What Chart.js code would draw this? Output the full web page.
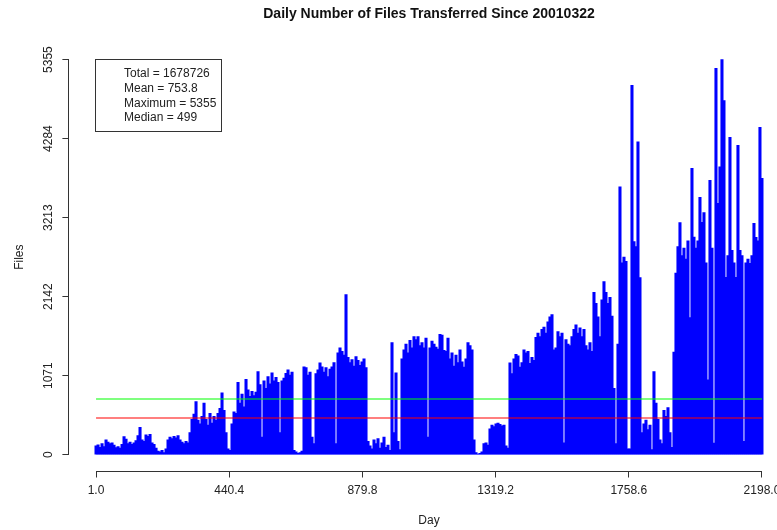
<!DOCTYPE html>
<html><head><meta charset="utf-8">
<script src="https://cdn.jsdelivr.net/npm/chart.js@4/dist/chart.umd.min.js"></script>
<style>
html,body{margin:0;padding:0;background:#fff;overflow:hidden;}
#wrap{position:relative;width:790px;height:530px;}
</style></head><body>
<div id="wrap"><canvas id="c" width="790" height="530"></canvas></div>
<script>
const TITLE = 'Daily Number of Files Transferred Since 20010322';
const X_LABEL = 'Day';
const Y_LABEL = 'Files';
const FIRST_DAY = 1, LAST_DAY = 2198;
const X_TICKS = [1.0, 440.4, 879.8, 1319.2, 1758.6, 2198.0];
const Y_TICKS = [0, 1071, 2142, 3213, 4284, 5355];
const MEAN = 753.8;
const MEDIAN = 499;
const STAT_NAMES = ['Total', 'Mean', 'Maximum', 'Median'];
const STAT_VALUES = ['1678726', '753.8', '5355', '499'];
// files per day (one reading per ~6.6 days)
const FILES = [
 120,135,100,150,110,200,170,150,160,130,
 95,110,90,140,245,210,150,170,140,160,
 190,260,370,200,180,270,250,275,160,140,
 90,50,40,60,30,80,200,240,220,250,
 230,260,200,170,150,180,160,300,480,550,
 720,470,420,520,700,480,400,560,430,520,
 470,560,630,840,600,300,80,60,420,580,
 560,980,700,820,650,1020,880,790,860,800,
 850,1125,950,240,1000,900,1060,960,1110,1000,
 1050,980,300,1000,1040,1104,1150,1080,1120,60,
 40,20,30,50,1190,1180,1080,1120,240,150,
 1100,1150,1245,1190,1120,1180,1060,1160,1190,1250,
 150,1380,1450,1400,1350,2170,1320,1250,1290,1200,
 1330,1280,1210,1260,1300,1180,180,120,80,200,
 150,220,90,160,240,100,130,60,1520,300,
 1110,180,70,1300,1420,1500,1380,1550,1450,1600,
 1560,1600,1480,1520,1450,1580,240,1450,1540,1500,
 1460,1430,1630,1620,1416,1400,1580,1300,1380,1200,
 1350,1250,1420,1260,1186,1300,1520,1480,1420,200,
 30,10,20,40,150,160,130,350,400,380,
 420,430,410,390,400,120,90,1245,1100,1300,
 1360,1340,1186,1250,1420,1380,1400,1240,1320,1280,
 1590,1650,1600,1700,1730,1650,1800,1870,1900,1420,
 1450,1670,1600,1650,160,1560,1500,1480,1600,1700,
 1760,1650,1720,1600,1700,1480,1420,1520,1400,2200,
 2050,1870,1600,2100,2345,2200,2050,2134,1880,900,
 150,1500,3630,2600,2680,2620,80,80,5007,2890,
 2820,4240,2400,300,420,470,340,400,70,1125,
 700,480,200,150,600,520,640,300,100,1390,
 2460,2820,3145,2700,2800,2650,2900,1860,3882,2950,
 2800,2900,3489,3150,3280,2600,1016,3720,2800,156,
 5237,3408,3900,5355,4800,2405,2700,4300,2770,2600,
 2405,4194,2771,2700,180,2600,2650,2595,2700,3137,
 2947,2900,4438,3747
];
const DAYS = FILES.map((_, i) => FIRST_DAY + i * (LAST_DAY - FIRST_DAY) / (FILES.length - 1));

const FONT = '"Liberation Sans", Arial, Helvetica, sans-serif';
const xPad = 0.04 * (LAST_DAY - FIRST_DAY);
const yMaxT = Y_TICKS[Y_TICKS.length - 1];
const yPad = 0.04 * yMaxT;

const rAxes = {
  id: 'rAxes',
  afterDraw(chart) {
    const {ctx, chartArea: a, scales: {x, y}} = chart;
    ctx.save();
    ctx.strokeStyle = '#333';
    ctx.lineWidth = 1;
    ctx.beginPath();
    const lx = Math.round(a.left) - 0.5;
    ctx.moveTo(lx, y.getPixelForValue(Y_TICKS[0]));
    ctx.lineTo(lx, y.getPixelForValue(yMaxT));
    const ly = Math.round(a.bottom) + 0.5;
    ctx.moveTo(x.getPixelForValue(X_TICKS[0]), ly);
    ctx.lineTo(x.getPixelForValue(X_TICKS[X_TICKS.length - 1]), ly);
    ctx.stroke();
    // stats box
    const bx = Math.round(x.getPixelForValue(FIRST_DAY)) - 0.5;
    const by = Math.round(y.getPixelForValue(yMaxT)) - 0.5;
    ctx.strokeRect(bx, by, 126, 72);
    ctx.fillStyle = '#222';
    ctx.font = '12px ' + FONT;
    ctx.textBaseline = 'middle';
    ctx.textAlign = 'left';
    STAT_NAMES.forEach((n, i) => {
      ctx.fillText(n + ' = ' + STAT_VALUES[i], bx + 28.5, by + 14.5 + i * 14.67);
    });
    ctx.restore();
  }
};

new Chart(document.getElementById('c'), {
  type: 'bar',
  data: {
    datasets: [
      { type: 'line', data: [{x: FIRST_DAY, y: MEAN}, {x: LAST_DAY, y: MEAN}],
        borderColor: 'rgba(0,255,0,0.5)', borderWidth: 2, pointRadius: 0, order: 0 },
      { type: 'line', data: [{x: FIRST_DAY, y: MEDIAN}, {x: LAST_DAY, y: MEDIAN}],
        borderColor: 'rgba(255,0,0,0.5)', borderWidth: 2, pointRadius: 0, order: 0 },
      { type: 'bar', data: DAYS.map((d, i) => ({x: d, y: FILES[i]})),
        backgroundColor: '#0000ff', borderWidth: 0, barThickness: 2.4, order: 1 }
    ]
  },
  options: {
    responsive: false,
    animation: false,
    devicePixelRatio: 1,
    layout: { padding: { left: 0, right: 1.4, top: 0, bottom: 0 }, autoPadding: false },
    plugins: {
      legend: { display: false },
      tooltip: { enabled: false },
      title: { display: true, text: TITLE, fullSize: false, color: '#111',
        font: { family: FONT, size: 14, weight: 'bold' }, padding: { top: 6, bottom: 21 } }
    },
    scales: {
      x: {
        type: 'linear', offset: false,
        min: FIRST_DAY - xPad, max: LAST_DAY + xPad,
        afterBuildTicks: s => { s.ticks = X_TICKS.map(v => ({value: v})); },
        afterFit: s => { s.height = 59.5; s.paddingLeft = 0; s.paddingRight = 0; },
        ticks: { autoSkip: false, minRotation: 0, maxRotation: 0, padding: 6, color: '#222',
          font: { family: FONT, size: 12 }, callback: v => Number(v).toFixed(1) },
        grid: { display: true, offset: false, drawOnChartArea: false, drawTicks: true, tickLength: 7, tickColor: '#333', tickWidth: 1 },
        border: { display: false },
        title: { display: true, text: X_LABEL, color: '#222', font: { family: FONT, size: 12 }, padding: { top: 0, bottom: 2 } }
      },
      y: {
        type: 'linear',
        min: -yPad, max: yMaxT + yPad,
        afterBuildTicks: s => { s.ticks = Y_TICKS.map(v => ({value: v})); },
        afterFit: s => { s.width = 69.4; s.paddingTop = 0; s.paddingBottom = 0; },
        ticks: { autoSkip: false, minRotation: 90, maxRotation: 90, crossAlign: 'center', padding: 0, color: '#222',
          font: { family: FONT, size: 12 }, callback: v => String(v) },
        grid: { display: true, drawOnChartArea: false, drawTicks: true, tickLength: 7, tickColor: '#333', tickWidth: 1 },
        border: { display: false },
        title: { display: true, text: Y_LABEL, color: '#222', font: { family: FONT, size: 12 }, padding: { top: 12, bottom: 0 } }
      }
    }
  },
  plugins: [rAxes]
});
</script>
</body></html>
